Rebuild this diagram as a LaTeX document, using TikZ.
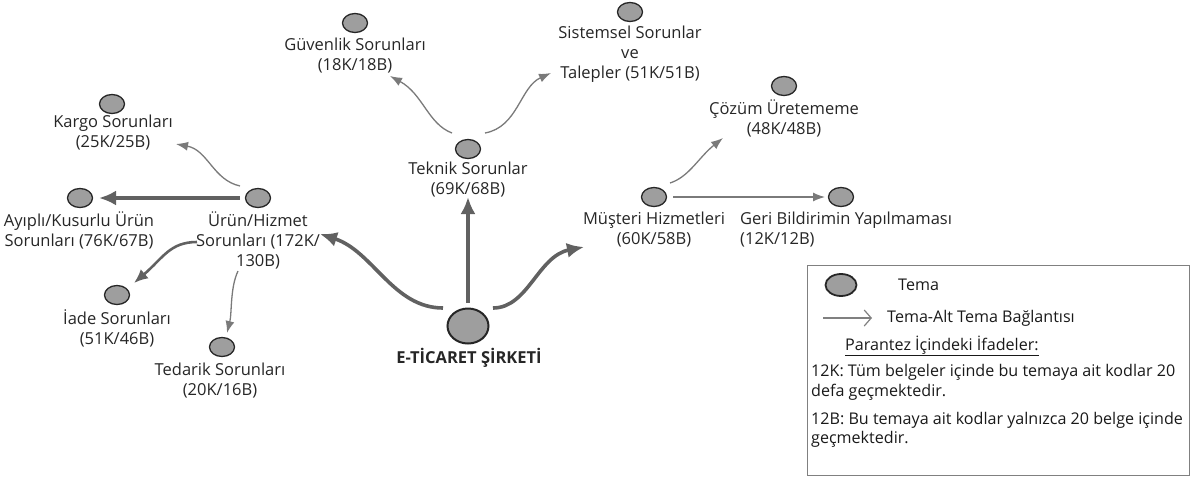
\documentclass[tikz,border=0pt]{standalone}
\usepackage{fontspec}
\setmainfont{Open Sans}
\usetikzlibrary{shapes.geometric,arrows.meta,calc}
\begin{document}
\begin{tikzpicture}[x=1pt,y=-1pt,
  tema/.style={ellipse,draw=black!85,line width=1.3pt,fill=black!38,minimum width=25pt,minimum height=19pt,inner sep=0pt},
  lbl/.style={align=center,font=\fontsize{16.5}{20}\selectfont,text=black!85,inner sep=0pt},
  lgd/.style={anchor=west,font=\fontsize{16.1}{20}\selectfont,text=black!90,inner sep=0pt},
  bigedge/.style={draw=black!62,line width=3.6pt,-{Latex[length=17pt,width=15pt]}},
  midedge/.style={draw=black!62,line width=2.6pt,-{Latex[length=14pt,width=12pt]}},
  thinedge/.style={draw=black!52,line width=1.3pt,-{Latex[length=12pt,width=9pt]}}]
\useasboundingbox (0,0) rectangle (1194,480);
% theme nodes
\node[tema,line width=2pt,minimum width=41pt,minimum height=35pt] (cen) at (468,326) {};
\node[lbl,font=\fontsize{16.5}{20}\selectfont\bfseries] (cenL) at (469,358) {E-TİCARET ŞİRKETİ};
\node[tema] (tek) at (468,149) {};
\node[lbl] (tekL) at (468,180) {Teknik Sorunlar\\(69K/68B)};
\node[tema] (guv) at (355,23) {};
\node[lbl] (guvL) at (355,56) {Güvenlik Sorunları\\(18K/18B)};
\node[tema] (sis) at (630,12) {};
\node[lbl] (sisL) at (630,54) {Sistemsel Sorunlar\\ve\\Talepler (51K/51B)};
\node[tema] (urn) at (258,198) {};
\node[lbl] (urnL) at (258,240) {Ürün/Hizmet\\Sorunları (172K/\\130B)};
\node[tema] (kar) at (112,104) {};
\node[lbl] (karL) at (113,133) {Kargo Sorunları\\(25K/25B)};
\node[tema] (ayi) at (80,198) {};
\node[lbl] (ayiL) at (79,230) {Ayıplı/Kusurlu Ürün\\Sorunları (76K/67B)};
\node[tema] (iad) at (117,295) {};
\node[lbl] (iadL) at (117,328) {İade Sorunları\\(51K/46B)};
\node[tema] (ted) at (222,347) {};
\node[lbl] (tedL) at (220,381) {Tedarik Sorunları\\(20K/16B)};
\node[tema] (mus) at (654,197) {};
\node[lbl] (musL) at (654,230) {Müşteri Hizmetleri\\(60K/58B)};
\node[tema] (coz) at (784,86) {};
\node[lbl] (cozL) at (784,118) {Çözüm Üretememe\\(48K/48B)};
\node[tema] (ger) at (841,197) {};
\node[lbl,align=left,anchor=west] (gerL) at (740,230) {Geri Bildirimin Yapılmaması\\(12K/12B)};
% connectors
\draw[bigedge] ($(cen)+(-25,-18)$) .. controls ($(cen)+(-75,-18)$) and ($(cen)+(-95,-75)$) .. ($(urn)+(62,36)$);
\draw[bigedge] ($(cen)+(0,-23)$) -- ($(tek)+(0,48)$);
\draw[bigedge] ($(cen)+(25,-18)$) .. controls ($(cen)+(60,-18)$) and ($(cen)+(70,-70)$) .. ($(mus)+(-70,50)$);
\draw[thinedge] ($(tek)+(-16,-16)$) .. controls ($(tek)+(-40,-25)$) and ($(tek)+(-45,-55)$) .. ($(guv)+(35,53)$);
\draw[thinedge] ($(tek)+(17,-16)$) .. controls ($(tek)+(50,-22)$) and ($(tek)+(52,-62)$) .. ($(sis)+(-79,61)$);
\draw[thinedge] ($(urn)+(-18,-12)$) .. controls ($(urn)+(-45,-18)$) and ($(urn)+(-50,-48)$) .. ($(kar)+(64,40)$);
\draw[bigedge] ($(urn)+(-18,0)$) -- ($(ayi)+(19,0)$);
\draw[midedge] ($(urn)+(-61,44)$) .. controls ($(urn)+(-88,44)$) and ($(urn)+(-95,60)$) .. ($(iad)+(17,-12)$);
\draw[thinedge] ($(urn)+(-20,73)$) .. controls ($(urn)+(-28,90)$) and ($(urn)+(-26,115)$) .. ($(ted)+(5,-14)$);
\draw[thinedge] ($(mus)+(16,-14)$) .. controls ($(mus)+(35,-20)$) and ($(mus)+(45,-40)$) .. ($(coz)+(-61,52)$);
\draw[thinedge] ($(mus)+(19,0)$) -- ($(ger)+(-16,0)$);
% legend
\node[draw=black!50,line width=1.6pt,minimum width=382pt,minimum height=210pt,inner sep=0pt] (box) at (998.5,370.5) {};
\node[tema,line width=1.8pt,minimum width=31pt,minimum height=22pt] (lt) at (841,285) {};
\node[lgd] (ltL) at (898,285) {Tema};
\coordinate (la) at (823,318);
\coordinate (lb) at (872,318);
\draw[draw=black!50,line width=1.2pt,-{Straight Barb[length=7pt,width=16pt]}] (la) -- (lb);
\node[lgd] (laL) at (887,318) {Tema-Alt Tema Bağlantısı};
\node[lgd] (lp) at (845,346) {\underline{Parantez İçindeki İfadeler:}};
\node[lgd] (l1) at (811,372) {12K: Tüm belgeler içinde bu temaya ait kodlar 20};
\node[lgd] (l2) at (811,392) {defa geçmektedir.};
\node[lgd] (l3) at (811,420) {12B: Bu temaya ait kodlar yalnızca 20 belge içinde};
\node[lgd] (l4) at (811,439) {geçmektedir.};
\end{tikzpicture}
\end{document}
